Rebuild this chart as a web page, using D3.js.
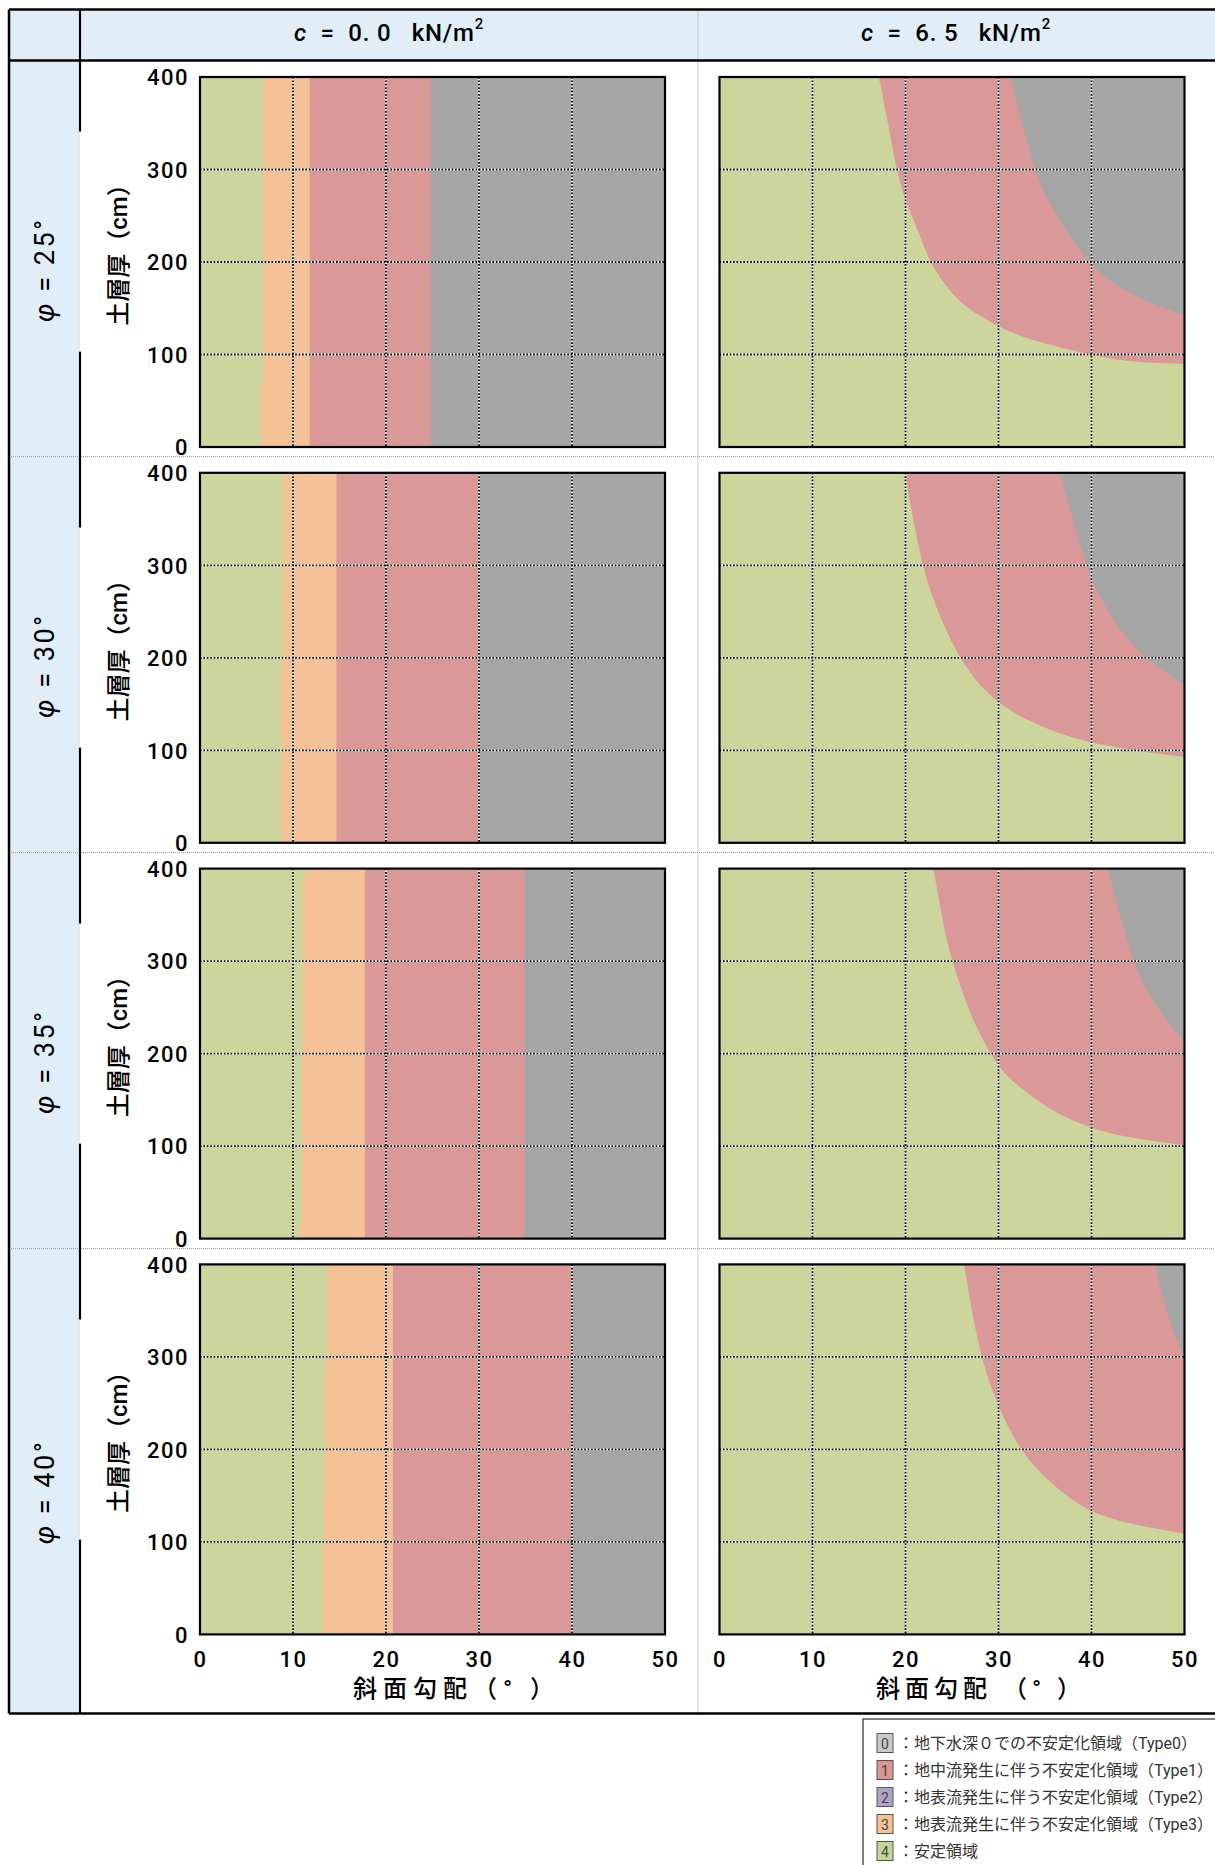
<!DOCTYPE html>
<html>
<head>
<meta charset="utf-8">
<script src="https://cdn.jsdelivr.net/npm/d3@7"></script>
<style>
  body { margin: 0; background: #fff; }
  svg text { font-family: Roboto, "Noto Sans CJK JP", sans-serif; }
</style>
</head>
<body>
<script>
// 斜面勾配 - 土層厚 の不安定化領域図（φ × c）

var slopeTicks = [0, 10, 20, 30, 40, 50];
var depthTicks = [0, 100, 200, 300, 400];
var slopeGrid = [10, 20, 30, 40];
var depthGrid = [100, 200, 300];
var phiValues = ["25", "30", "35", "40"];
var cValues = ["0.0", "6.5"];

// c = 0.0 : 各領域の左端 [土層厚(cm), 斜面勾配(°)]
var c00_phi25_t3 = [[0, 6.6], [68, 6.6], [68, 6.84], [400, 6.84]];
var c00_phi25_t1 = [[0, 11.8], [400, 11.8]];
var c00_phi25_t0 = [[0, 24.8], [400, 24.8]];
var c00_phi30_t3 = [[0, 8.75], [195, 8.75], [195, 8.92], [400, 8.92]];
var c00_phi30_t1 = [[0, 14.67], [400, 14.67]];
var c00_phi30_t0 = [[0, 29.95], [400, 29.95]];
var c00_phi35_t3 = [[0, 10.75], [16, 10.75], [16, 11.0], [215, 11.0], [215, 11.1], [395, 11.1], [395, 11.45], [400, 11.45]];
var c00_phi35_t1 = [[0, 17.72], [400, 17.72]];
var c00_phi35_t0 = [[0, 34.9], [400, 34.9]];
var c00_phi40_t3 = [[0, 13.18], [97, 13.18], [97, 13.33], [154, 13.33], [154, 13.52], [290, 13.52], [290, 13.66], [400, 13.66]];
var c00_phi40_t1 = [[0, 20.75], [400, 20.75]];
var c00_phi40_t0 = [[0, 39.93], [400, 39.93]];

// c = 6.5 : 境界曲線 [土層厚(cm), 斜面勾配(°)]
var c65_phi25_t1 = [[90, 50], [92, 43.5], [100, 39.9], [108, 36.4], [119, 32.4], [134, 29.2], [155, 25.9], [177, 24.1], [200, 22.6], [235, 21.3], [266, 20.0], [300, 19.0], [357, 18.0], [400, 17.13]];
var c65_phi25_t0 = [[143, 50], [155, 46.4], [177, 42.1], [200, 39.6], [235, 37.2], [266, 35.3], [300, 33.8], [357, 32.4], [400, 31.3]];
var c65_phi30_t1 = [[93, 50], [97, 46.2], [103, 42.7], [110, 39.1], [122, 35.5], [136, 32.3], [151, 30.1], [169, 28.0], [200, 25.8], [233, 24.2], [262, 23.0], [300, 21.8], [342, 21.0], [371, 20.4], [400, 20.04]];
var c65_phi30_t0 = [[171, 50], [184, 48.0], [200, 45.9], [212, 44.5], [241, 42.3], [270, 40.7], [300, 39.4], [360, 37.7], [400, 36.6]];
var c65_phi35_t1 = [[101, 50], [108, 44.5], [119, 39.8], [137, 35.9], [155, 33.4], [176, 30.7], [200, 29.1], [234, 27.3], [270, 26.0], [300, 25.0], [332, 24.2], [361, 23.7], [400, 23.0]];
var c65_phi35_t0 = [[212, 50], [241, 47.7], [270, 45.7], [300, 44.5], [361, 42.7], [400, 41.8]];
var c65_phi40_t1 = [[109, 50], [118, 44.7], [127, 41.4], [138, 38.9], [160, 36.0], [181, 33.9], [200, 32.4], [218, 31.4], [239, 30.3], [272, 29.0], [300, 28.2], [326, 27.6], [363, 26.9], [400, 26.3]];
var c65_phi40_t0 = [[301, 50], [326, 48.8], [363, 47.7], [400, 46.8]];

var legendTypes = ["0", "1", "2", "3", "4"];
var legendTexts = [
  "：地下水深０での不安定化領域（Type0）",
  "：地中流発生に伴う不安定化領域（Type1）",
  "：地表流発生に伴う不安定化領域（Type2）",
  "：地表流発生に伴う不安定化領域（Type3）",
  "：安定領域"
];

var panels = [
  {row: 0, col: 0, zones: [["3", c00_phi25_t3], ["1", c00_phi25_t1], ["0", c00_phi25_t0]]},
  {row: 1, col: 0, zones: [["3", c00_phi30_t3], ["1", c00_phi30_t1], ["0", c00_phi30_t0]]},
  {row: 2, col: 0, zones: [["3", c00_phi35_t3], ["1", c00_phi35_t1], ["0", c00_phi35_t0]]},
  {row: 3, col: 0, zones: [["3", c00_phi40_t3], ["1", c00_phi40_t1], ["0", c00_phi40_t0]]},
  {row: 0, col: 1, zones: [["1", c65_phi25_t1], ["0", c65_phi25_t0]]},
  {row: 1, col: 1, zones: [["1", c65_phi30_t1], ["0", c65_phi30_t0]]},
  {row: 2, col: 1, zones: [["1", c65_phi35_t1], ["0", c65_phi35_t0]]},
  {row: 3, col: 1, zones: [["1", c65_phi40_t1], ["0", c65_phi40_t0]]}
];

var zoneColor = {"0": "#a6a6a6", "1": "#da9898", "3": "#f5c197", "4": "#ccd69c"};
var swatchColor = {"0": "#c9c9c9", "1": "#d99694", "2": "#b3a2c7", "3": "#fac090", "4": "#c3d69b"};
var headBlue = "#e1eef8";

var W = 1215, H = 1865;
var tableL = 9, tableT = 9.5, headB = 60.6, tableB = 1713.5, labelColR = 80, colMid = 698;
var rowH = 396;
var plotLeft = [200, 719.5], plotW = 465, plotH = 370, plotTop0 = 77, plotStep = 395.8;
var headerX = [389, 956];
var xTitleShift = [24, 29];

var svg = d3.select("body").append("svg").attr("width", W).attr("height", H);

var x = d3.scaleLinear().domain([0, 50]).range([0, plotW]);
var y = d3.scaleLinear().domain([0, 400]).range([plotH, 0]);

// 表の背景
svg.append("rect").attr("x", tableL).attr("y", tableT)
  .attr("width", W - tableL).attr("height", headB - tableT).attr("fill", headBlue);
svg.append("rect").attr("x", tableL).attr("y", tableT)
  .attr("width", labelColR - tableL).attr("height", tableB - tableT).attr("fill", headBlue);

var rowTops = phiValues.map(function(d, i) { return headB + i * rowH; });
var rowBottoms = rowTops.slice(1).concat([tableB]);

// 点線の区切り
svg.selectAll(".rowline").data(rowTops.slice(1)).enter().append("line")
  .attr("x1", tableL).attr("x2", W).attr("y1", function(d) { return d; }).attr("y2", function(d) { return d; })
  .attr("stroke", "#999").attr("stroke-width", 1).attr("stroke-dasharray", "1,1");
svg.append("line").attr("x1", colMid).attr("x2", colMid).attr("y1", tableT).attr("y2", tableB)
  .attr("stroke", "#999").attr("stroke-width", 1).attr("stroke-dasharray", "1,1");

// 太線
function thick(x1, y1, x2, y2, w) {
  svg.append("line").attr("x1", x1).attr("y1", y1).attr("x2", x2).attr("y2", y2)
    .attr("stroke", "#000").attr("stroke-width", w || 2.5);
}
thick(tableL, tableT, W, tableT);
thick(tableL, headB, W, headB);
thick(tableL, tableT, tableL, tableB);
thick(labelColR, tableT, labelColR, tableB, 2.2);
thick(tableL, tableB, W, tableB);

// 縦軸ラベルの白抜きで隠れた部分
rowTops.forEach(function(t) {
  svg.append("rect").attr("x", labelColR - 2).attr("y", t + 71).attr("width", 4).attr("height", 220).attr("fill", "#fff");
  svg.append("line").attr("x1", labelColR - 1).attr("x2", labelColR - 1).attr("y1", t + 71).attr("y2", t + 291)
    .attr("stroke", "#d0d0d0").attr("stroke-width", 1);
});

// 見出し
cValues.forEach(function(c, i) {
  var t = svg.append("text").attr("x", headerX[i]).attr("y", 33)
    .attr("text-anchor", "middle").attr("dominant-baseline", "central")
    .attr("font-size", 24).attr("font-weight", 500).attr("letter-spacing", 0.8).style("white-space", "pre");
  t.append("tspan").attr("font-style", "italic").text("c");
  t.append("tspan").text("  =  " + c.replace(".", ". ") + "   kN/m");
  t.append("tspan").attr("font-size", 15).attr("dy", -9).text("2");
});

phiValues.forEach(function(p, i) {
  var cy = (rowTops[i] + rowBottoms[i]) / 2 + 11;
  var t = svg.append("text").attr("transform", "translate(45," + cy + ") rotate(-90)")
    .attr("text-anchor", "middle").attr("dominant-baseline", "central")
    .attr("font-size", 27).attr("letter-spacing", 2.5).style("white-space", "pre");
  t.append("tspan").attr("font-style", "italic").text("φ");
  t.append("tspan").text(" = " + p + "°");
});

// 各グラフ
panels.forEach(function(p) {
  var top = plotTop0 + p.row * plotStep;
  var g = svg.append("g").attr("transform", "translate(" + plotLeft[p.col] + "," + top + ")");
  var id = "clip" + p.row + p.col;
  g.append("clipPath").attr("id", id).append("rect").attr("width", plotW).attr("height", plotH);
  var body = g.append("g").attr("clip-path", "url(#" + id + ")");

  body.append("rect").attr("width", plotW).attr("height", plotH).attr("fill", zoneColor["4"]);

  var area = d3.area()
    .y(function(d) { return y(d[0]); })
    .x0(function(d) { return x(d[1]); })
    .x1(x(50) + 2)
    .curve(p.col === 1 ? d3.curveBasis : d3.curveLinear);

  body.selectAll(".zone").data(p.zones).enter().append("path")
    .attr("d", function(d) { return area(d[1]); })
    .attr("fill", function(d) { return zoneColor[d[0]]; });

  // 格子（白黒の点線）
  [["#fff", null], ["#000", "1.7,1.7"]].forEach(function(s) {
    body.selectAll(null).data(slopeGrid).enter().append("line")
      .attr("x1", function(d) { return x(d); }).attr("x2", function(d) { return x(d); })
      .attr("y1", 0).attr("y2", plotH)
      .attr("stroke", s[0]).attr("stroke-width", 1.8).attr("stroke-dasharray", s[1]);
    body.selectAll(null).data(depthGrid).enter().append("line")
      .attr("y1", function(d) { return y(d); }).attr("y2", function(d) { return y(d); })
      .attr("x1", 0).attr("x2", plotW)
      .attr("stroke", s[0]).attr("stroke-width", 1.8).attr("stroke-dasharray", s[1]);
  });

  g.append("rect").attr("width", plotW).attr("height", plotH)
    .attr("fill", "none").attr("stroke", "#000").attr("stroke-width", 2.2);

  if (p.col === 0) {
    g.append("g")
      .call(d3.axisLeft(y).tickValues(depthTicks).tickSize(0).tickPadding(11))
      .call(function(a) { a.select(".domain").remove(); })
      .attr("font-size", 22).attr("font-family", "Roboto, sans-serif").attr("font-weight", 500)
      .selectAll("text").attr("letter-spacing", 1.5).attr("dy", "0.35em");

    g.append("text")
      .attr("transform", "translate(" + (119 - plotLeft[0]) + "," + (plotH / 2 - 13) + ") rotate(-90)")
      .attr("text-anchor", "middle").attr("dominant-baseline", "central")
      .attr("font-family", "'Noto Sans CJK JP', sans-serif")
      .attr("font-size", 24).attr("font-weight", 500)
      .text("土層厚（cm）");
  }

  if (p.row === 3) {
    g.append("g").attr("transform", "translate(0," + plotH + ")")
      .call(d3.axisBottom(x).tickValues(slopeTicks).tickSize(0).tickPadding(17))
      .call(function(a) { a.select(".domain").remove(); })
      .attr("font-size", 22).attr("font-family", "Roboto, sans-serif").attr("font-weight", 500)
      .selectAll("text").attr("letter-spacing", 1.5);

    g.append("text")
      .attr("x", plotW / 2 + xTitleShift[p.col]).attr("y", 1689 - top)
      .attr("text-anchor", "middle").attr("dominant-baseline", "central")
      .attr("font-family", "'Noto Sans CJK JP', sans-serif")
      .attr("font-size", 24).attr("font-weight", 500).attr("letter-spacing", p.col === 0 ? 6 : 5)
      .style("white-space", "pre")
      .text(p.col === 0 ? "斜面勾配（° ）" : "斜面勾配 （° ）");
  }
});

// 凡例
var ly = d3.scaleLinear().domain([0, 4]).range([1743, 1851]);
svg.append("rect").attr("x", 863).attr("y", 1719).attr("width", 420).attr("height", 220)
  .attr("fill", "#fff").attr("stroke", "#555").attr("stroke-width", 1.5);
var items = svg.selectAll(".lg").data(legendTypes).enter().append("g")
  .attr("transform", function(d, i) { return "translate(0," + ly(i) + ")"; });
items.append("rect").attr("x", 877).attr("y", -9.5).attr("width", 16).attr("height", 19)
  .attr("fill", function(d) { return swatchColor[d]; }).attr("stroke", "#555").attr("stroke-width", 1);
items.append("text").attr("x", 885).attr("y", 0.5).attr("text-anchor", "middle")
  .attr("dominant-baseline", "central").attr("font-size", 14).attr("fill", "#444")
  .text(function(d) { return d; });
items.append("text").attr("x", 898).attr("y", 0)
  .attr("dominant-baseline", "central").attr("font-size", 16).attr("fill", "#333")
  .attr("font-family", "'Noto Sans CJK JP', sans-serif")
  .text(function(d, i) { return legendTexts[i]; });
</script>
</body>
</html>
